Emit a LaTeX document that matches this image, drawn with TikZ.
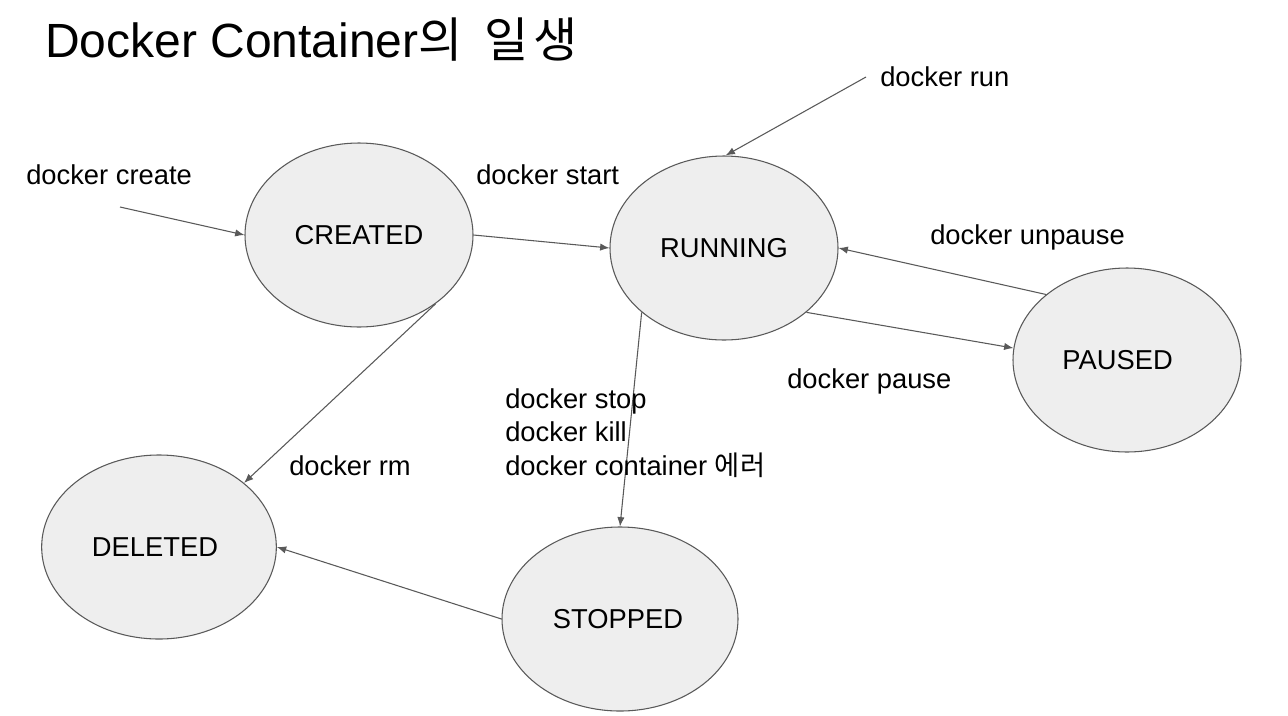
\documentclass[tikz,border=0pt]{standalone}
\usepackage{fontspec}
\setmainfont{Liberation Sans}
\newfontfamily\krfont{Noto Sans CJK KR}
\usepackage{tikz}
\usetikzlibrary{shapes.geometric,arrows.meta,positioning}
\definecolor{dkfill}{HTML}{EEEEEE}
\definecolor{dkline}{HTML}{595959}

\begin{document}
\begin{tikzpicture}[
    x=0.75pt, y=-0.75pt,
    status/.style={ellipse, draw=dkline, fill=dkfill, line width=0.8pt, minimum width=171pt, minimum height=138pt, inner sep=0pt, font=\fontsize{20.5}{24}\selectfont},
    arrow/.style={-{Latex[length=7pt,width=5.5pt]}, line width=0.8pt, color=dkline},
    cmd/.style={anchor=base west, inner sep=0pt, font=\fontsize{20.5}{24}\selectfont},
]
    \useasboundingbox (0,0) rectangle (1288,715);

    \node[anchor=base west, inner sep=0pt, font=\fontsize{36}{40}\selectfont] (title) at (45,57) {Docker Container{\krfont 의\hspace{8pt} 일\hspace{4pt}생}};

    % states
    \node[status] (created) at (359,235) {CREATED};
    \node[status] (running) at (724,248) {RUNNING};
    \node[status] (paused) at (1127,360) {PAUSED\hspace*{14pt}};
    \node[status, minimum width=176pt] (deleted) at (159,547) {DELETED\hspace*{6pt}};
    \node[status, minimum width=177pt] (stopped) at (620,619) {STOPPED\hspace*{3pt}};

    \coordinate (createsrc) at (120,207);
    \coordinate (runsrc) at (866,77);

    \draw[arrow] (createsrc) -- (created.180);
    \draw[arrow] (runsrc) -- (running.89);
    \draw[arrow] (created.0) -- (running.180);
    \draw[arrow] (paused.141) -- (running.0);
    \draw[arrow] (running.-38) -- (paused.174);
    \draw[arrow] (running.218) -- (stopped.90);
    \draw[arrow] (created.-42) -- (deleted.37);
    \draw[arrow] (stopped.180) -- (deleted.0);

    % commands
    \node[cmd] (lcreate) at (26,184) {docker create};
    \node[cmd] (lstart) at (476,184) {docker start};
    \node[cmd] (lrun) at (880,86) {docker run};
    \node[cmd] (lunpause) at (930,244) {docker unpause};
    \node[cmd] (lpause) at (787,388) {docker pause};
    \node[cmd] (lrm) at (289,475) {docker rm};
    \node[cmd, anchor=north west, align=left, font=\fontsize{20.5}{25.3}\selectfont] (lstop) at (505,388)
        {docker stop\\docker kill\\docker container {\krfont 에러}};
\end{tikzpicture}
\end{document}
